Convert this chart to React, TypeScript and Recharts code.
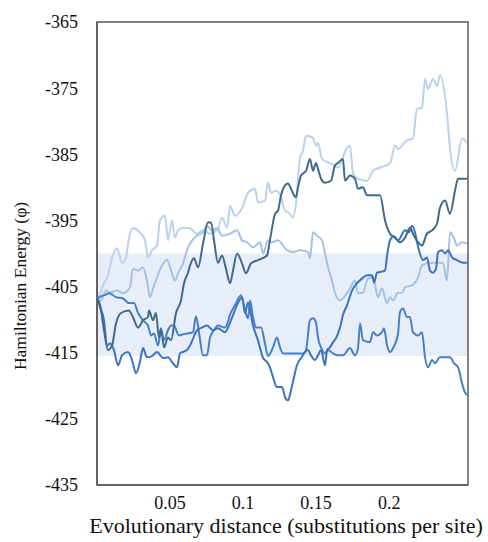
import React from "react";
import { LineChart, Line, XAxis, YAxis, ReferenceArea } from "recharts";

// Evolutionary distance (x) vs Hamiltonian energy (y), five replicate runs
const seriesA: [number, number][] = [
  [0, -406.8], [0.0021, -406.2], [0.0041, -404.8], [0.0075, -403.3], [0.0103, -400.7], [0.0137, -399.2],
  [0.0171, -401.4], [0.0192, -401.0], [0.0226, -397.0], [0.0246, -396.2], [0.0294, -396.8], [0.0329, -398.0],
  [0.0349, -400.6], [0.0377, -399.5], [0.0411, -398.8], [0.0431, -395.0], [0.0466, -394.3], [0.0486, -398.0],
  [0.0513, -395.0], [0.0534, -397.6], [0.0555, -396.5], [0.0589, -396.1], [0.0637, -396.2], [0.0685, -397.0],
  [0.0726, -396.5], [0.0774, -397.0], [0.0822, -396.5], [0.0856, -394.6], [0.089, -396.1], [0.0911, -392.8],
  [0.0945, -394.3], [0.1, -392.8], [0.1034, -390.8], [0.1082, -390.2], [0.1102, -392.3], [0.115, -392.0],
  [0.1171, -389.3], [0.1191, -390.8], [0.1226, -390.5], [0.126, -391.5], [0.1287, -393.5], [0.1321, -394.0],
  [0.1342, -394.6], [0.1362, -392.5], [0.139, -385.5], [0.141, -384.5], [0.1431, -382.2], [0.1479, -382.5],
  [0.1499, -383.7], [0.1513, -383.3], [0.154, -385.7], [0.1602, -386.4], [0.165, -387.0], [0.1712, -384.0],
  [0.1732, -383.7], [0.1753, -387.9], [0.1787, -388.7], [0.1849, -389.0], [0.189, -387.5], [0.1938, -387.0],
  [0.2006, -386.4], [0.204, -383.7], [0.2061, -384.2], [0.2122, -382.9], [0.2163, -382.6], [0.2191, -378.1],
  [0.2225, -378.0], [0.2246, -373.6], [0.2266, -375.1], [0.23, -373.6], [0.2328, -374.7], [0.2348, -373.1],
  [0.2396, -378.8], [0.2417, -384.2], [0.2451, -387.5], [0.2499, -382.6], [0.2533, -383.3],
];

const seriesB: [number, number][] = [
  [0, -406.8], [0.0027, -407.1], [0.0062, -405.6], [0.0089, -405.9], [0.0137, -405.6], [0.0178, -406.0],
  [0.0226, -405.1], [0.0246, -402.3], [0.0281, -402.6], [0.0315, -402.1], [0.0342, -404.1], [0.0363, -406.6],
  [0.0383, -405.3], [0.0411, -403.6], [0.0445, -401.8], [0.0479, -401.0], [0.0513, -403.0], [0.0534, -404.1],
  [0.0555, -403.0], [0.0589, -401.5], [0.0616, -399.5], [0.0637, -398.5], [0.0685, -397.3], [0.0726, -396.8],
  [0.0753, -395.8], [0.0787, -396.5], [0.0822, -396.2], [0.0856, -397.3], [0.0911, -397.0], [0.0959, -396.5],
  [0.0993, -398.0], [0.1027, -398.3], [0.1068, -399.1], [0.1116, -398.3], [0.1137, -400.0], [0.1171, -398.0],
  [0.1198, -398.3], [0.1239, -398.0], [0.1301, -399.5], [0.1342, -399.8], [0.139, -399.5], [0.1445, -399.8],
  [0.1458, -400.7], [0.1479, -396.8], [0.1506, -397.3], [0.154, -398.0], [0.1561, -400.0], [0.1582, -402.1],
  [0.1609, -404.1], [0.1629, -405.9], [0.1664, -407.1], [0.1698, -406.4], [0.1732, -405.3], [0.1766, -404.1],
  [0.1787, -406.0], [0.1821, -405.9], [0.1855, -403.8], [0.189, -403.6], [0.1924, -406.6], [0.1951, -405.3],
  [0.1985, -407.5], [0.2006, -406.6], [0.2027, -407.1], [0.2061, -405.9], [0.2088, -406.0], [0.2109, -405.1],
  [0.2157, -404.8], [0.2177, -404.4], [0.2198, -403.6], [0.2225, -401.8], [0.228, -401.4], [0.2348, -401.4],
  [0.2369, -401.5], [0.2396, -404.1], [0.2417, -396.8], [0.2444, -397.7], [0.2465, -398.8], [0.2499, -398.3],
  [0.2533, -398.5],
];

const seriesD: [number, number][] = [
  [0, -406.8], [0.0021, -407.8], [0.0048, -411.6], [0.0075, -414.6], [0.0103, -413.9], [0.013, -410.6],
  [0.0164, -409.0], [0.0219, -408.6], [0.0246, -409.6], [0.0281, -411.2], [0.0315, -410.1], [0.0349, -409.6],
  [0.0356, -408.6], [0.0383, -410.1], [0.0404, -409.0], [0.0424, -412.7], [0.0438, -411.3], [0.0459, -414.2],
  [0.0486, -412.7], [0.0507, -413.1], [0.0541, -409.0], [0.0575, -407.1], [0.0596, -404.5], [0.0623, -402.9],
  [0.0637, -401.8], [0.0664, -400.7], [0.0692, -402.1], [0.0726, -398.5], [0.076, -395.3], [0.0781, -395.3],
  [0.0801, -398.0], [0.0828, -401.4], [0.0856, -400.3], [0.0883, -402.3], [0.0911, -404.5], [0.0931, -402.6],
  [0.0959, -400.0], [0.0993, -401.5], [0.102, -403.0], [0.1054, -401.5], [0.1102, -401.0], [0.1164, -400.3],
  [0.1184, -398.0], [0.1219, -394.0], [0.1239, -393.5], [0.126, -391.2], [0.1287, -389.7], [0.1308, -389.4],
  [0.1328, -390.2], [0.1342, -390.9], [0.1362, -391.5], [0.1376, -390.0], [0.1397, -388.2], [0.1431, -387.5],
  [0.1458, -385.7], [0.1479, -387.5], [0.1499, -386.3], [0.1513, -387.2], [0.1534, -388.7], [0.1561, -389.3],
  [0.1602, -389.0], [0.1629, -386.7], [0.165, -386.3], [0.1684, -385.7], [0.1698, -389.0], [0.1732, -388.2],
  [0.1766, -388.7], [0.1787, -390.2], [0.1821, -390.0], [0.1849, -391.2], [0.1938, -391.2], [0.1972, -395.0],
  [0.2006, -397.0], [0.204, -397.6], [0.2074, -398.3], [0.2109, -397.6], [0.2143, -396.1], [0.2163, -397.0],
  [0.2198, -398.3], [0.2225, -398.8], [0.2259, -397.0], [0.2294, -396.5], [0.2328, -395.5], [0.2348, -393.1],
  [0.2383, -392.0], [0.2417, -394.0], [0.2451, -390.5], [0.2472, -388.7], [0.2533, -388.7],
];

const seriesP: [number, number][] = [
  [0, -406.8], [0.0021, -408.1], [0.0048, -410.1], [0.0068, -413.9], [0.0089, -413.6], [0.0116, -414.6],
  [0.0144, -416.9], [0.0171, -415.4], [0.0212, -414.9], [0.024, -416.1], [0.0267, -418.1], [0.0294, -416.4],
  [0.0315, -414.3], [0.0342, -415.7], [0.0377, -415.5], [0.0411, -414.9], [0.0452, -415.8], [0.0486, -415.7],
  [0.052, -416.6], [0.0548, -417.2], [0.0568, -415.1], [0.0616, -414.6], [0.0637, -413.9], [0.0685, -411.6],
  [0.0719, -411.2], [0.0753, -410.9], [0.0794, -411.6], [0.0828, -411.3], [0.0876, -411.9], [0.0917, -410.1],
  [0.0965, -407.5], [0.0993, -406.6], [0.1013, -409.0], [0.1034, -407.4], [0.1068, -410.9], [0.1102, -413.1],
  [0.1137, -415.8], [0.1164, -416.4], [0.1184, -417.2], [0.1205, -418.7], [0.1232, -420.2], [0.1267, -420.2],
  [0.1287, -421.7], [0.1308, -422.2], [0.1328, -420.7], [0.1349, -418.7], [0.1369, -416.9], [0.1397, -415.8],
  [0.1445, -414.6], [0.1465, -415.4], [0.1492, -416.1], [0.1513, -415.4], [0.1534, -414.6], [0.1561, -416.9],
  [0.1575, -414.6], [0.1595, -414.2], [0.1616, -413.4], [0.1636, -412.8], [0.1664, -411.2], [0.1684, -409.3],
  [0.1712, -407.8], [0.1746, -405.6], [0.178, -404.5], [0.1814, -403.8], [0.1849, -403.3], [0.1883, -403.3],
  [0.1897, -404.4], [0.1917, -402.9], [0.1972, -402.6], [0.1986, -400.3], [0.2006, -398.0], [0.2033, -397.4],
  [0.2061, -398.0], [0.2109, -396.5], [0.2136, -396.8], [0.2157, -395.8], [0.2177, -396.8], [0.2191, -398.3],
  [0.2211, -400.0], [0.2232, -401.0], [0.2259, -400.6], [0.228, -402.6], [0.23, -402.9], [0.2321, -402.3],
  [0.2335, -399.8], [0.2362, -399.5], [0.2383, -400.0], [0.2403, -399.5], [0.2431, -400.6], [0.2465, -401.0],
  [0.2506, -401.4], [0.2533, -401.4],
];

const seriesQ: [number, number][] = [
  [0, -406.8], [0.0027, -406.5], [0.0062, -406.2], [0.0082, -406.0], [0.013, -406.6], [0.0178, -406.8],
  [0.0219, -407.5], [0.0253, -407.5], [0.0281, -409.0], [0.0315, -410.1], [0.0349, -410.9], [0.037, -412.4],
  [0.039, -412.1], [0.0418, -413.9], [0.0438, -411.6], [0.0459, -413.1], [0.0486, -411.6], [0.0507, -410.9],
  [0.0527, -410.9], [0.0561, -412.4], [0.0589, -412.2], [0.0657, -411.9], [0.0678, -409.5], [0.0698, -411.9],
  [0.0726, -415.4], [0.0753, -415.4], [0.0774, -412.7], [0.0801, -411.6], [0.0828, -410.9], [0.0876, -411.2],
  [0.0917, -408.9], [0.0945, -407.8], [0.0986, -406.3], [0.1013, -408.6], [0.1034, -409.8], [0.1048, -407.1],
  [0.1068, -409.6], [0.1089, -411.2], [0.1123, -411.2], [0.115, -413.6], [0.1171, -415.5], [0.1205, -414.2],
  [0.1232, -412.7], [0.1253, -414.2], [0.1273, -415.1], [0.1321, -415.1], [0.1376, -415.1], [0.141, -415.1],
  [0.1431, -414.6], [0.1458, -410.1], [0.1479, -409.8], [0.1499, -410.4], [0.1513, -412.7], [0.1534, -414.2],
  [0.1561, -415.1], [0.1582, -414.6], [0.1616, -415.1], [0.165, -415.4], [0.1684, -415.4], [0.1732, -414.3],
  [0.1766, -415.4], [0.1787, -414.3], [0.1801, -410.6], [0.1821, -413.1], [0.1869, -413.4], [0.189, -411.9],
  [0.1917, -412.4], [0.1951, -411.9], [0.1965, -411.3], [0.1986, -413.9], [0.2006, -414.9], [0.2027, -414.3],
  [0.2061, -412.1], [0.2074, -408.9], [0.2095, -408.3], [0.2122, -409.6], [0.2143, -409.6], [0.2163, -411.9],
  [0.2198, -412.4], [0.2225, -411.9], [0.2246, -415.7], [0.2266, -417.2], [0.2294, -416.1], [0.2314, -416.6],
  [0.2348, -415.7], [0.2417, -415.7], [0.2444, -416.6], [0.2472, -417.2], [0.2499, -419.6], [0.2519, -421.0],
  [0.2533, -421.4],
];

const yTicks = [-435, -425, -415, -405, -395, -385, -375, -365];
const xTicks = [0.05, 0.1, 0.15, 0.2];
const xTickLabels = ["0.05", "0.1", "0.15", "0.2"];
const band = { low: -415.5, high: -400 };

const toRows = (s: [number, number][]) => s.map(([x, y]) => ({ x, y }));

const FONT = "'Liberation Serif', 'Times New Roman', serif";

const series = [
  { key: "A", data: toRows(seriesA), color: "#bad2ef" },
  { key: "B", data: toRows(seriesB), color: "#a4c2e7" },
  { key: "Q", data: toRows(seriesQ), color: "#4680c9" },
  { key: "P", data: toRows(seriesP), color: "#3a74c0" },
  { key: "D", data: toRows(seriesD), color: "#3e6b8d" },
];

export default function App() {
  return (
    <div style={{ position: "absolute", left: 0, top: 0, width: 488, height: 542, background: "#fff" }}>
      <LineChart width={488} height={542} margin={{ top: 22, right: 20, bottom: 0, left: 0 }}>
        <XAxis
          dataKey="x"
          type="number"
          domain={[0, 0.254]}
          ticks={xTicks}
          tickFormatter={(v: number) => xTickLabels[xTicks.indexOf(v)] ?? String(v)}
          allowDataOverflow
          height={57}
          tickLine={false}
          tickSize={0}
          tickMargin={11}
          axisLine={{ stroke: "#5a5a5a", strokeWidth: 1.5 }}
          tick={{ fontFamily: FONT, fontSize: 18, fill: "#111" }}
          label={(props: any) => (
            <text x={286} y={533} textAnchor="middle" fontFamily={FONT} fontSize={22} fill="#111">
              Evolutionary distance (substitutions per site)
            </text>
          )}
        />
        <YAxis
          type="number"
          domain={[-435, -365]}
          ticks={yTicks}
          allowDataOverflow
          width={97}
          tickLine={false}
          tickSize={0}
          tickMargin={19}
          axisLine={{ stroke: "#5a5a5a", strokeWidth: 1.5 }}
          tick={{ fontFamily: FONT, fontSize: 18, fill: "#111" }}
          label={(props: any) => (
            <text
              x={20}
              y={286}
              textAnchor="middle"
              dominantBaseline="central"
              transform="rotate(-90, 20, 286)"
              fontFamily={FONT}
              fontSize={17.5}
              fill="#111"
            >
              Hamiltonian Energy (φ)
            </text>
          )}
        />
        <ReferenceArea y1={band.low} y2={band.high} fill="#e7eef8" fillOpacity={1} stroke="none" />
        {series.map((s) => (
          <Line
            key={s.key}
            data={s.data}
            dataKey="y"
            type="monotone"
            stroke={s.color}
            strokeWidth={2}
            dot={false}
            activeDot={false}
            isAnimationActive={false}
          />
        ))}
        <ReferenceArea
          x1={0}
          x2={0.254}
          y1={-435}
          y2={-365}
          fill="none"
          fillOpacity={0}
          stroke="#5a5a5a"
          strokeWidth={1.5}
        />
      </LineChart>
    </div>
  );
}
